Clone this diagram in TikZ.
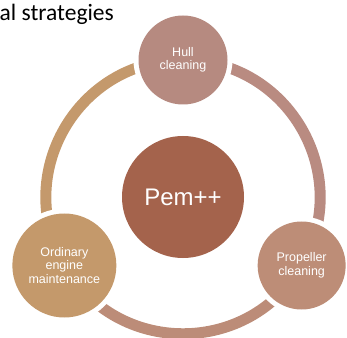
\documentclass[tikz,border=0pt]{standalone}
\usepackage{fontspec}
\setmainfont{Carlito}
\newfontfamily\nodefont{Liberation Sans}
\usetikzlibrary{backgrounds}

\definecolor{pemred}{HTML}{A4634C}
\definecolor{hullrose}{HTML}{B68A80}
\definecolor{propbrown}{HTML}{BD8D77}
\definecolor{ordtan}{HTML}{C4996B}
\definecolor{arcleft}{HTML}{C4996C}
\definecolor{arcright}{HTML}{B98B81}
\definecolor{arcbottom}{HTML}{BC8C78}

\begin{document}
\begin{tikzpicture}[
    x=1pt, y=1pt,
    every node/.style={align=center},
    stage/.style={circle, inner sep=0pt, text=white,
        font=\nodefont\fontsize{12.5}{13.5}\selectfont,
        preaction={draw=white, line width=10pt}},
    ring/.style={line width=11pt, looseness=1.136}
]
  \useasboundingbox (0,0) rectangle (347,337);

  \node[anchor=base west, inner sep=0pt, font=\fontsize{23.5}{28}\selectfont] (title) at (-0.5,316.5) {al strategies};

  \node[stage, fill=pemred, minimum size=122pt,
        font=\nodefont\fontsize{24}{28}\selectfont] (pem) at (183,140) {Pem++};
  \node[stage, fill=hullrose, minimum size=89pt] (hull) at ([shift={(90:137pt)}]pem.center) {Hull\\cleaning};
  \node[stage, fill=propbrown, minimum size=88pt] (prop) at ([shift={(-30:137pt)}]pem.center) {Propeller\\cleaning};
  \node[stage, fill=ordtan, minimum size=104pt] (ord) at ([shift={(210:137pt)}]pem.center) {Ordinary\\engine\\maintenance};

  \begin{pgfonlayer}{background}
    \draw[ring, arcleft] (ord.center) to[out=120, in=180] (hull.center);
    \draw[ring, arcright] (hull.center) to[out=0, in=60] (prop.center);
    \draw[ring, arcbottom] (prop.center) to[out=240, in=300] (ord.center);
  \end{pgfonlayer}
\end{tikzpicture}
\end{document}
